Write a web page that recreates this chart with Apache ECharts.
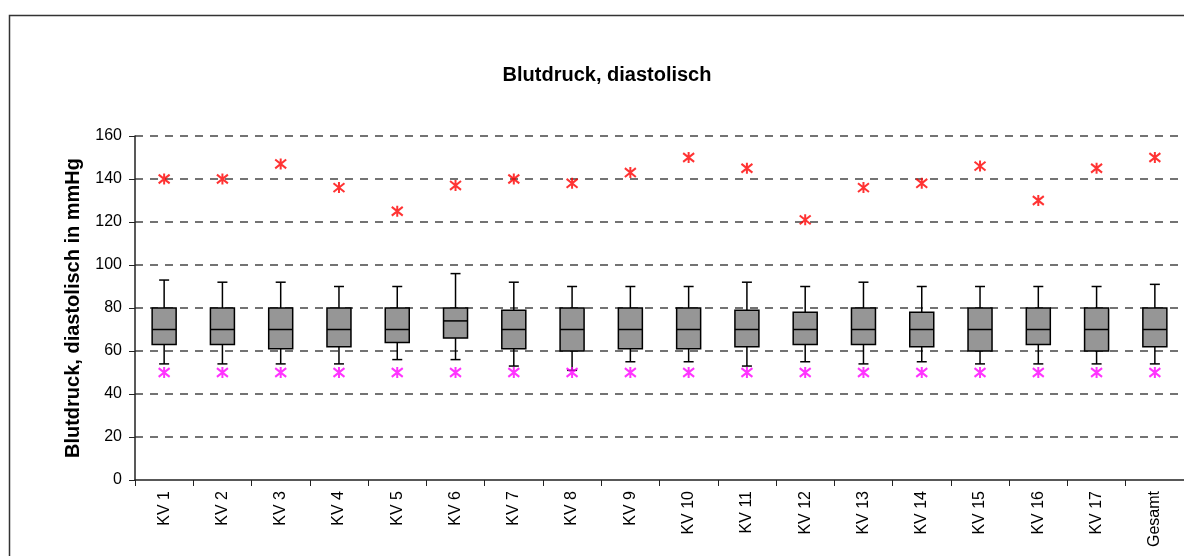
<!DOCTYPE html>
<html>
<head>
<meta charset="utf-8">
<script src="https://cdn.jsdelivr.net/npm/echarts@6/dist/echarts.min.js"></script>
<style>
  html, body { margin: 0; padding: 0; background: #fff; }
  #chart { width: 1184px; height: 556px; }
</style>
</head>
<body>
<div id="chart"></div>
<script>
// Kategorien
var categories = ['KV 1', 'KV 2', 'KV 3', 'KV 4', 'KV 5', 'KV 6', 'KV 7', 'KV 8', 'KV 9',
  'KV 10', 'KV 11', 'KV 12', 'KV 13', 'KV 14', 'KV 15', 'KV 16', 'KV 17', 'Gesamt'];
// Boxplot-Kennwerte
var whiskerLow  = [54, 54, 54, 54, 56, 56, 53, 51, 55, 55, 53, 55, 54, 55, 54, 54, 54, 54];
var q1          = [63, 63, 61, 62, 64, 66, 61, 60, 61, 61, 62, 63, 63, 62, 60, 63, 60, 62];
var median      = [70, 70, 70, 70, 70, 74, 70, 70, 70, 70, 70, 70, 70, 70, 70, 70, 70, 70];
var q3          = [80, 80, 80, 80, 80, 80, 79, 80, 80, 80, 79, 78, 80, 78, 80, 80, 80, 80];
var whiskerHigh = [93, 92, 92, 90, 90, 96, 92, 90, 90, 90, 92, 90, 92, 90, 90, 90, 90, 91];
// Extremwerte
var maxValues   = [140, 140, 147, 136, 125, 137, 140, 138, 143, 150, 145, 121, 136, 138, 146, 130, 145, 150];
var minValues   = [50, 50, 50, 50, 50, 50, 50, 50, 50, 50, 50, 50, 50, 50, 50, 50, 50, 50];
// Achse
var yTicks = { min: 0, max: 160, interval: 20 };

var boxData = categories.map(function (c, i) {
  return [i, whiskerLow[i], q1[i], median[i], q3[i], whiskerHigh[i]];
});

var star = 'path://M5,0L5,10M1,1L9,9M9,1L1,9';
var font = 'Liberation Sans';

function renderBox(params, api) {
  var i = api.value(0);
  var pLow = api.coord([i, api.value(1)]);
  var pQ1 = api.coord([i, api.value(2)]);
  var pMed = api.coord([i, api.value(3)]);
  var pQ3 = api.coord([i, api.value(4)]);
  var pHigh = api.coord([i, api.value(5)]);
  var x = pMed[0];
  var halfBox = 12, halfCap = 5;
  var line = { stroke: '#000', lineWidth: 1.5 };
  return {
    type: 'group',
    children: [
      { type: 'line', shape: { x1: x, y1: pQ1[1], x2: x, y2: pLow[1] }, style: line },
      { type: 'line', shape: { x1: x, y1: pQ3[1], x2: x, y2: pHigh[1] }, style: line },
      { type: 'line', shape: { x1: x - halfCap, y1: pLow[1], x2: x + halfCap, y2: pLow[1] }, style: line },
      { type: 'line', shape: { x1: x - halfCap, y1: pHigh[1], x2: x + halfCap, y2: pHigh[1] }, style: line },
      { type: 'rect', shape: { x: x - halfBox, y: pQ3[1], width: halfBox * 2, height: pQ1[1] - pQ3[1] },
        style: { fill: '#969696', stroke: '#000', lineWidth: 1.5 } },
      { type: 'line', shape: { x1: x - halfBox, y1: pMed[1], x2: x + halfBox, y2: pMed[1] }, style: line }
    ]
  };
}

var chart = echarts.init(document.getElementById('chart'));
chart.setOption({
  animation: false,
  title: {
    text: 'Blutdruck, diastolisch',
    left: 602, top: 60, textAlign: 'center',
    textStyle: { fontFamily: font, fontSize: 20, fontWeight: 'bold', color: '#000' }
  },
  graphic: [{
    type: 'rect', silent: true,
    shape: { x: 9.5, y: 15.5, width: 1300, height: 700 },
    style: { fill: 'none', stroke: '#333', lineWidth: 1.5 }
  }],
  grid: { left: 135, top: 136, width: 1062, height: 344 },
  xAxis: {
    type: 'category',
    data: categories,
    boundaryGap: true,
    axisLine: { lineStyle: { color: '#222', width: 1.5 } },
    axisTick: { show: true, length: 6, lineStyle: { color: '#222' } },
    axisLabel: { rotate: 90, margin: 11, fontFamily: font, fontSize: 16, color: '#000' },
    splitLine: { show: false }
  },
  yAxis: {
    type: 'value',
    min: yTicks.min, max: yTicks.max, interval: yTicks.interval,
    name: 'Blutdruck, diastolisch in mmHg',
    nameLocation: 'middle', nameGap: 52, nameRotate: 90,
    nameTextStyle: { fontFamily: font, fontSize: 20, fontWeight: 'bold', color: '#000' },
    axisLine: { show: true, lineStyle: { color: '#222', width: 1.5 } },
    axisTick: { show: true, length: 6, lineStyle: { color: '#222' } },
    axisLabel: { margin: 13, fontFamily: font, fontSize: 16, color: '#000' },
    splitLine: { show: true, showMinLine: false, lineStyle: { color: '#737373', width: 2, type: [8, 7] } }
  },
  series: [
    {
      name: 'Box', type: 'custom', renderItem: renderBox, data: boxData,
      encode: { x: 0, y: [1, 2, 3, 4, 5] }, z: 3
    },
    {
      name: 'Maximum', type: 'scatter', data: maxValues, symbol: star, symbolSize: 11,
      itemStyle: { color: 'none', borderColor: '#ff0000', borderWidth: 2 }, z: 4
    },
    {
      name: 'Minimum', type: 'scatter', data: minValues, symbol: star, symbolSize: 11,
      itemStyle: { color: 'none', borderColor: '#ff00ff', borderWidth: 2 }, z: 4
    }
  ]
});
</script>
</body>
</html>
